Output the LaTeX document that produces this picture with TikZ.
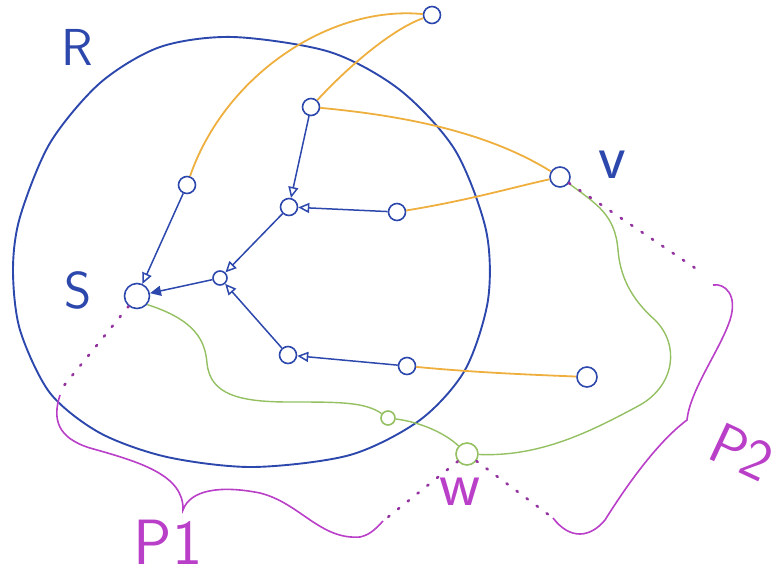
\documentclass[tikz,border=0pt]{standalone}
\usetikzlibrary{arrows.meta}
\definecolor{penblue}{RGB}{45,72,172}
\definecolor{penorange}{RGB}{238,175,62}
\definecolor{pengreen}{RGB}{148,192,98}
\definecolor{penpink}{RGB}{185,62,200}
\begin{document}
\begin{tikzpicture}[x=1pt,y=-1pt,
  vtx/.style={circle,draw=penblue,line width=1.6pt,inner sep=0pt,minimum size=17pt},
  gvtx/.style={vtx,draw=pengreen},
  tree/.style={penblue,line width=1.5pt,-{Triangle[open,length=11pt,width=10pt]}},
  cross/.style={penorange,line width=1.8pt},
  wig/.style={pengreen,line width=1.4pt},
  dots/.style={penpink!80!black,line width=2.6pt,line cap=round,dash pattern=on 1.5pt off 11pt},
  brace/.style={penpink,line width=1.6pt},
  lbl/.style={font=\sffamily\fontsize{52}{52}\selectfont}]
\useasboundingbox (0,0) rectangle (783,581);
\draw[penblue,line width=1.9pt] plot[smooth cycle] coordinates {(233,37) (330,52) (400,90) (455,150) (486,230) (488,300) (465,370) (420,420) (350,455) (253,467) (167,457) (100,433) (50,393) (20,330) (13,270) (20,217) (50,143) (100,83) (160,47)};
\node[vtx] (t) at (432,15) {}; \node[vtx] (a) at (311,107) {}; \node[vtx] (b) at (187,185) {}; \node[vtx] (c) at (289,207) {};
\node[vtx] (d) at (397,212) {}; \node[vtx,minimum size=14pt] (e) at (220,278) {}; \node[vtx,minimum size=25pt] (s) at (137,296) {};
\node[vtx] (f) at (288,355) {}; \node[vtx] (g) at (407,366) {}; \node[vtx,minimum size=20pt] (h) at (587,377) {}; \node[vtx,minimum size=20pt] (v) at (560,177) {};
\node[gvtx,minimum size=14pt] (x) at (388,418) {}; \node[gvtx,minimum size=22pt] (w) at (467,454) {};
\coordinate (sd) at (62,388); \coordinate (wl) at (383,521); \coordinate (wr) at (553,518); \coordinate (vd) at (698,270);
\draw[cross] (b) .. controls (225,75) and (330,5) .. (t);
\draw[cross] (a) .. controls (345,70) and (390,30) .. (t);
\draw[cross] (a) .. controls (430,118) and (500,140) .. (v);
\draw[cross] (d) .. controls (470,200) and (510,188) .. (v);
\draw[cross] (g) .. controls (480,373) and (540,375) .. (h);
\draw[tree] (a) -- (c); \draw[tree] (d) -- (c); \draw[tree] (c) -- (e); \draw[tree] (b) -- (s);
\draw[tree,-{Triangle[length=11pt,width=10pt]}] (e) -- (s); \draw[tree] (f) -- (e); \draw[tree] (g) -- (f);
\draw[wig] (s.-40) .. controls (195,320) and (205,340) .. (207,363) .. controls (210,395) and (240,402) .. (290,402) .. controls (340,402) and (365,402) .. (x);
\draw[wig] (x) .. controls (420,422) and (445,433) .. (w);
\draw[wig] (w) .. controls (540,457) and (590,432) .. (640,405) .. controls (675,385) and (680,345) .. (655,320) .. controls (630,298) and (620,275) .. (618,250) .. controls (615,215) and (598,205) .. (v);
\draw[dots] (s) -- (sd); \draw[dots] (w) -- (wl); \draw[dots] (w) -- (wr); \draw[dots] (v) -- (vd);
\draw[brace] (60,395) .. controls (52,420) and (58,438) .. (90,448) .. controls (140,462) and (184,475) .. (183,510) .. controls (190,490) and (220,485) .. (260,493) .. controls (300,503) and (320,540) .. (360,537) .. controls (368,535) and (373,532) .. (wl);
\draw[brace] (wr) .. controls (570,540) and (590,538) .. (605,520) .. controls (630,480) and (660,440) .. (687,420) .. controls (690,390) and (720,350) .. (730,320) .. controls (738,295) and (725,283) .. (713,285);
\node[lbl,penblue] (rlbl) at (77,47) {R}; \node[lbl,penblue] (slbl) at (78,290) {S}; \node[lbl,penblue,font=\sffamily\fontsize{64}{64}\selectfont] (vlbl) at (612,165) {v};
\node[lbl,penpink,font=\sffamily\fontsize{64}{64}\selectfont] (wlbl) at (460,492) {w};
\node[lbl,penpink,font=\sffamily\fontsize{64}{64}\selectfont] (p1lbl) at (168,542) {P1};
\node[lbl,penpink,font=\sffamily\fontsize{58}{58}\selectfont,rotate=-25,inner sep=0pt] (p2lbl) at (742,452) {P2};
\end{tikzpicture}
\end{document}
